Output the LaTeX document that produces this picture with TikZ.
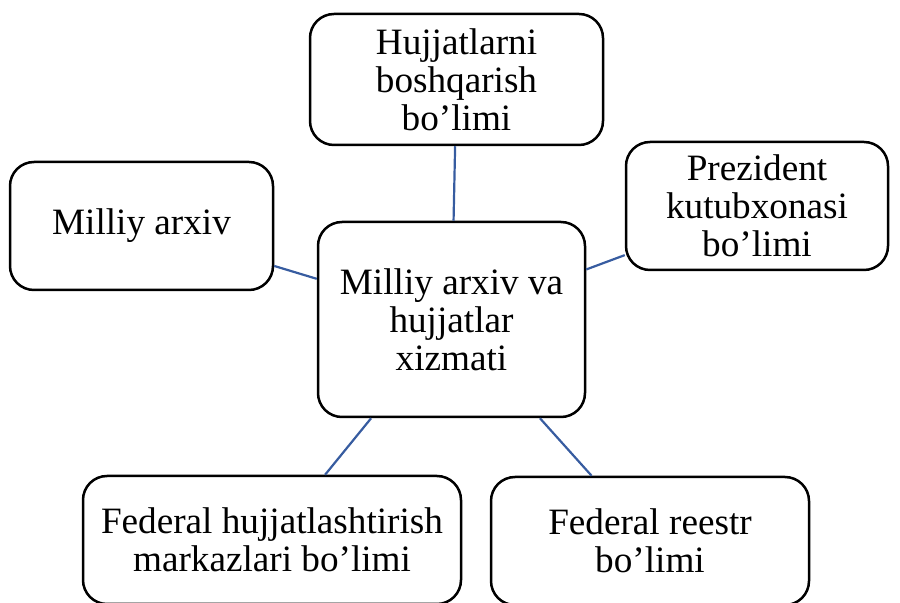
\documentclass[tikz,border=0pt]{standalone}
\usepackage{fontspec}
\setmainfont{Liberation Serif}
\usetikzlibrary{positioning}

\begin{document}
\begin{tikzpicture}[x=0.5pt, y=-0.5pt]
\definecolor{linkColour}{RGB}{55, 92, 160}
			\tikzstyle{unit}=[rectangle, rounded corners=12pt, draw, line width=1.25pt, align=center, font=\fontsize{18.6pt}{19pt}\selectfont, inner sep=0pt]

			\useasboundingbox (0,0) rectangle (900,603);

			\node [unit, minimum width=133.5pt, minimum height=97.5pt] (m) at (451.5,319.5) {Milliy arxiv va\\hujjatlar\\xizmati};
			\node [unit, minimum width=146.5pt, minimum height=65.5pt] (h) at (456.5,79.5) {Hujjatlarni\\boshqarish\\bo’limi};
			\node [unit, minimum width=131.5pt, minimum height=64pt] (a) at (141.5,226) {Milliy arxiv};
			\node [unit, minimum width=131pt, minimum height=64pt] (p) at (757,206) {Prezident\\kutubxonasi\\bo’limi};
			\node [unit, minimum width=189pt, minimum height=64pt] (f) at (272,540) {Federal hujjatlashtirish\\markazlari bo’limi};
			\node [unit, minimum width=159pt, minimum height=64pt] (r) at (650,541) {Federal reestr\\bo’limi};

			\path[-, line width=1.1pt, color=linkColour]
			(m) edge (h)
			(m) edge (a)
			(m) edge (p)
			(m) edge (f)
			(m) edge (r);
		\end{tikzpicture}
\end{document}
